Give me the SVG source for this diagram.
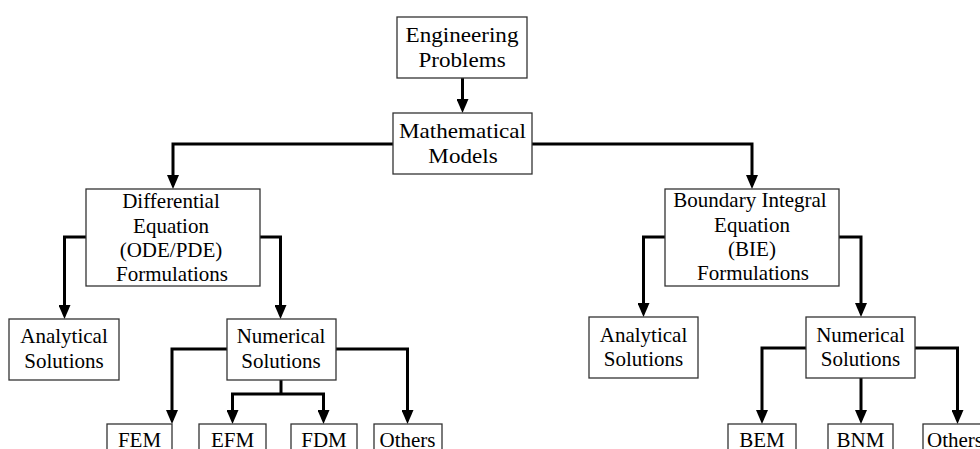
<svg xmlns="http://www.w3.org/2000/svg" width="980" height="449" viewBox="0 0 980 449">
<defs>
<marker id="ah" viewBox="0 0 14 12" refX="10" refY="6" markerWidth="14" markerHeight="12" markerUnits="userSpaceOnUse" orient="auto">
<path d="M0,0 L14,6 L0,12 z" fill="#000"/>
</marker>
</defs>
<style>
rect{fill:#fff;stroke:#333;stroke-width:1.3}
text{font-family:'Liberation Serif','Times New Roman',serif;font-size:21px;fill:#000;text-anchor:middle}
.c path{fill:none;stroke:#000;stroke-width:3}
.a{marker-end:url(#ah)}
</style>
<rect x="0" y="0" width="980" height="449" style="fill:#fff;stroke:none"/>
<g class="c" id="connectors">
<path class="a" d="M462.5,78 V109"/>
<path class="a" d="M393,144 H173 V185"/>
<path class="a" d="M532,144 H752 V185"/>
<path class="a" d="M86,237 H64.5 V315"/>
<path class="a" d="M260,237 H280.5 V315"/>
<path class="a" d="M665,237 H643.5 V313"/>
<path class="a" d="M839,237 H861 V313"/>
<path class="a" d="M227,349 H172 V420"/>
<path class="a" d="M336,349 H407.5 V420"/>
<path d="M281,380 V394"/>
<path class="a" d="M281,394 H232.5 V420"/>
<path class="a" d="M281,394 H323.5 V420"/>
<path class="a" d="M806,348 H762 V420"/>
<path class="a" d="M915,348 H957.5 V420"/>
<path class="a" d="M861,378 V420"/>
</g>
<g id="engineering">
<rect x="397" y="17" width="130" height="61"/>
<text transform="translate(462,41.5) scale(1.1,1)">Engineering</text>
<text transform="translate(462,66.5) scale(1.1,1)">Problems</text>
</g>
<g id="mathematical">
<rect x="393" y="113" width="139" height="61"/>
<text transform="translate(462.5,137.5) scale(1.1,1)">Mathematical</text>
<text transform="translate(463,163) scale(1.1,1)">Models</text>
</g>
<g id="differential">
<rect x="86" y="189" width="174" height="97"/>
<text x="171" y="208">Differential</text>
<text x="171" y="232.5">Equation</text>
<text x="171" y="257">(ODE/PDE)</text>
<text x="172" y="281">Formulations</text>
</g>
<g id="bie">
<rect x="665" y="189" width="174" height="97"/>
<text x="750" y="207">Boundary Integral</text>
<text x="752" y="231.5">Equation</text>
<text x="752" y="256">(BIE)</text>
<text x="753" y="280">Formulations</text>
</g>
<g id="analytical-left">
<rect x="9" y="319" width="110" height="61"/>
<text x="64" y="343">Analytical</text>
<text x="64" y="368">Solutions</text>
</g>
<g id="numerical-left">
<rect x="227" y="319" width="109" height="61"/>
<text x="281" y="343">Numerical</text>
<text x="281" y="368">Solutions</text>
</g>
<g id="analytical-right">
<rect x="589" y="317" width="109" height="61"/>
<text x="643.5" y="341.5">Analytical</text>
<text x="643.5" y="365.5">Solutions</text>
</g>
<g id="numerical-right">
<rect x="806" y="317" width="109" height="61"/>
<text x="860.5" y="341.5">Numerical</text>
<text x="860.5" y="365.5">Solutions</text>
</g>
<g id="fem">
<rect x="107" y="424" width="65" height="40"/>
<text x="139.5" y="447">FEM</text>
</g>
<g id="efm">
<rect x="199" y="424" width="67" height="40"/>
<text x="232.5" y="447">EFM</text>
</g>
<g id="fdm">
<rect x="291" y="424" width="66" height="40"/>
<text x="324" y="447">FDM</text>
</g>
<g id="others-left">
<rect x="374" y="424" width="68" height="40"/>
<text x="407.5" y="447">Others</text>
</g>
<g id="bem">
<rect x="728" y="424" width="68" height="40"/>
<text x="762" y="447">BEM</text>
</g>
<g id="bnm">
<rect x="828" y="424" width="65" height="40"/>
<text x="860.5" y="447">BNM</text>
</g>
<g id="others-right">
<rect x="923" y="424" width="68" height="40"/>
<text x="927" y="447" style="text-anchor:start">Others</text>
</g>
</svg>
